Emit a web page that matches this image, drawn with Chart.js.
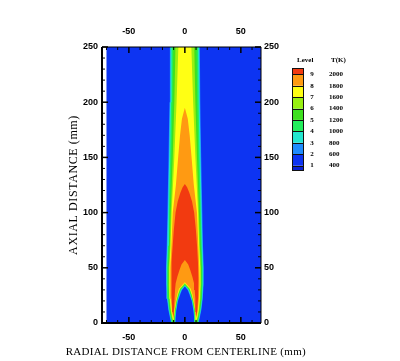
<!DOCTYPE html>
<html><head><meta charset="utf-8">
<script src="https://cdn.jsdelivr.net/npm/chart.js@4.4.0/dist/chart.umd.min.js"></script>
<style>html,body{margin:0;padding:0;background:#fff;}#wrap{width:400px;height:361px;position:relative;}</style>
</head><body><div id="wrap"><canvas id="c"></canvas></div>
<script>
// ---------- data ----------
const xRange = [-74, 68];
const yRange = [0, 250];
const domainX = [-70, 68];          // computed domain (blue field)
const domainY = [0, 250];
const xTickLabels = [-50, 0, 50];
const yTickLabels = [0, 50, 100, 150, 200, 250];
const xMinorTicks = [-70, -60, -40, -30, -20, -10, 10, 20, 30, 40, 60];
const yMinorTicks = [10, 20, 30, 40, 60, 70, 80, 90, 110, 120, 130, 140, 160, 170, 180, 190, 210, 220, 230, 240];
const xTitle = 'RADIAL DISTANCE FROM CENTERLINE (mm)';
const yTitle = 'AXIAL DISTANCE (mm)';
const levelNumbers = [1, 2, 3, 4, 5, 6, 7, 8, 9];
const levelTemps = [400, 600, 800, 1000, 1200, 1400, 1600, 1800, 2000];
// band colours: <400, 400-600, 600-800, ..., 1800-2000, >2000
const bandColors = ['#0a22d2', '#0d34f2', '#1f8cff', '#22e6cf', '#22ee5c', '#3ee020', '#98f012', '#ffff14', '#ff9a12', '#f23a10'];

// isotherm profiles: [axial mm, half-width mm]; outer edge (bottom→top), inner core edge (bottom→apex)
const outer600  = [[0,12.2],[5,13.4],[12,14.8],[22,16.0],[35,16.8],[50,16.9],[70,16.2],[100,15.6],[150,14.6],[200,13.8],[250,13.4]];
const inner600  = [[0,8.4],[5,8.2],[11,7.6],[20,6.1],[26,4.0],[30,2.5],[33,0]];
const outer800  = [[0,11.9],[5,13.0],[12,14.4],[22,15.6],[35,16.4],[50,16.4],[70,15.7],[100,15.0],[150,14.0],[200,13.2],[250,12.8]];
const inner800  = [[0,8.7],[5,8.5],[11,7.9],[20,6.5],[26,4.5],[30,3.1],[33.6,0]];
const outer1000 = [[0,11.5],[5,12.6],[12,14.0],[22,15.1],[35,15.8],[50,15.8],[70,15.0],[100,14.3],[150,13.1],[200,12.3],[250,11.8]];
const inner1000 = [[0,9.0],[5,8.8],[11,8.2],[20,6.8],[26,5.0],[30,3.6],[34.2,0]];
const outer1200 = [[1,11.1],[5,12.1],[12,13.4],[22,14.5],[35,15.1],[50,15.1],[70,14.2],[100,13.4],[150,12.0],[200,11.0],[250,10.4]];
const inner1200 = [[1,9.3],[5,9.1],[11,8.5],[20,7.1],[26,5.4],[31,3.6],[34.8,0]];
const outer1400 = [[2,10.8],[5,11.6],[12,12.9],[22,13.9],[35,14.5],[50,14.4],[70,13.4],[100,12.6],[150,10.8],[200,9.4],[250,8.4]];
const inner1400 = [[2,9.6],[5,9.4],[11,8.8],[20,7.4],[26,5.8],[31,4.0],[35.4,0]];
const outer1600 = [[3,10.5],[6,11.2],[12,12.3],[22,13.3],[35,13.8],[50,13.7],[70,12.7],[100,11.8],[150,9.4],[200,7.4],[250,5.8]];
const inner1600 = [[3,9.9],[6,9.7],[11,9.1],[20,7.7],[26,6.2],[31,4.5],[36.2,0]];
const outer1800 = [[4,10.3],[7,10.8],[12,11.7],[22,12.6],[35,13.1],[50,12.9],[70,12.0],[100,10.8],[125,8.0],[150,6.0],[170,4.3],[185,2.6],[195,0]];
const inner1800 = [[4,10.1],[7,9.9],[11,9.4],[20,8.0],[26,6.7],[31,5.2],[37,0]];
const outer2000 = [[6,10.3],[10,10.9],[16,11.4],[25,11.9],[40,12.1],[55,11.7],[70,10.9],[85,9.8],[100,8.3],[110,6.4],[118,4.0],[123,2.0],[126,0]];
const inner2000 = [[6,10.2],[10,9.9],[16,9.5],[22,9.2],[30,8.8],[36,8.2],[42,6.7],[48,4.8],[53,3.0],[57,0]];

// ---------- build ----------
function flamePolygon(outer, inner) {
  const pts = [];
  outer.forEach(([y, h]) => pts.push({x: -h, y}));
  for (let i = outer.length - 1; i >= 0; i--) { const [y, h] = outer[i]; pts.push({x: h, y}); }
  inner.forEach(([y, h]) => pts.push({x: h, y}));
  for (let i = inner.length - 1; i >= 0; i--) { const [y, h] = inner[i]; pts.push({x: -h, y}); }
  return pts;
}
const regions = [
  {pts: [{x: domainX[0], y: domainY[0]}, {x: domainX[1], y: domainY[0]}, {x: domainX[1], y: domainY[1]}, {x: domainX[0], y: domainY[1]}], color: bandColors[1]},
  {pts: flamePolygon(outer600, inner600), color: bandColors[2]},
  {pts: flamePolygon(outer800, inner800), color: bandColors[3]},
  {pts: flamePolygon(outer1000, inner1000), color: bandColors[4]},
  {pts: flamePolygon(outer1200, inner1200), color: bandColors[5]},
  {pts: flamePolygon(outer1400, inner1400), color: bandColors[6]},
  {pts: flamePolygon(outer1600, inner1600), color: bandColors[7]},
  {pts: flamePolygon(outer1800, inner1800), color: bandColors[8]},
  {pts: flamePolygon(outer2000, inner2000), color: bandColors[9]},
];
const datasets = regions.map((r, i) => ({
  data: r.pts, showLine: true, fill: 'shape', backgroundColor: r.color,
  borderColor: 'rgba(0,0,0,0)', borderWidth: 0.01, pointRadius: 0, tension: 0,
  order: regions.length - i
}));

const tickFont = {family: 'Liberation Sans', size: 9, weight: 'bold'};

const frameTicks = {
  id: 'frameTicks',
  afterDatasetsDraw(chart) {
    const {ctx, chartArea: a, scales} = chart;
    ctx.save();
    ctx.strokeStyle = '#000';
    const seg = (x1, y1, x2, y2, w) => { ctx.lineWidth = w; ctx.beginPath(); ctx.moveTo(x1, y1); ctx.lineTo(x2, y2); ctx.stroke(); };
    xTickLabels.forEach(v => { const p = scales.x.getPixelForValue(v); seg(p, a.bottom, p, a.bottom - 6, 1.5); seg(p, a.top, p, a.top + 6, 1.5); });
    xMinorTicks.forEach(v => { const p = scales.x.getPixelForValue(v); seg(p, a.bottom, p, a.bottom - 3, 1); seg(p, a.top, p, a.top + 3, 1); });
    yTickLabels.forEach(v => { const p = scales.y.getPixelForValue(v); seg(a.left, p, a.left + 6, p, 1.5); seg(a.right, p, a.right - 6, p, 1.5); });
    yMinorTicks.forEach(v => { const p = scales.y.getPixelForValue(v); seg(a.left, p, a.left + 3, p, 1); seg(a.right, p, a.right - 3, p, 1); });
    seg(a.left, a.top, a.right, a.top, 1);
    seg(a.right, a.top, a.right, a.bottom, 1);
    seg(a.left - 1, a.bottom, a.right, a.bottom, 2);
    seg(a.left, a.top, a.left, a.bottom + 1, 2);
    ctx.restore();
  }
};

const axisTitles = {
  id: 'axisTitles',
  afterDraw(chart) {
    const {ctx, chartArea: a, scales} = chart;
    ctx.save();
    ctx.fillStyle = '#000';
    ctx.textAlign = 'center';
    ctx.textBaseline = 'middle';
    ctx.font = '11px "Liberation Serif"';
    ctx.letterSpacing = '0.3px';
    ctx.fillText(xTitle, scales.x.getPixelForValue(0) + 1, 352);
    ctx.font = '12px "Liberation Serif"';
    ctx.letterSpacing = '0.6px';
    ctx.translate(74, (a.top + a.bottom) / 2);
    ctx.rotate(-Math.PI / 2);
    ctx.fillText(yTitle, 0, 0);
    ctx.restore();
  }
};

const colorBar = {
  id: 'colorBar',
  afterDraw(chart) {
    const ctx = chart.ctx;
    const x0 = 292, w = 12, step = 11.4, yTop = 74.3; // position of highest level line
    ctx.save();
    const n = levelTemps.length;
    const yOf = k => yTop + (n - 1 - k) * step;   // y of level k line
    for (let b = 0; b < bandColors.length; b++) {
      const yUpper = b === n ? yOf(n - 1) - step * 0.53 : yOf(b);
      const yLower = b === 0 ? yOf(0) + step * 0.4 : yOf(b - 1);
      ctx.fillStyle = bandColors[b];
      ctx.fillRect(x0, yUpper, w, yLower - yUpper);
    }
    ctx.strokeStyle = '#111';
    ctx.lineWidth = 1;
    for (let k = 0; k < n; k++) { const y = Math.round(yOf(k)) + 0.5; ctx.beginPath(); ctx.moveTo(x0, y); ctx.lineTo(x0 + w, y); ctx.stroke(); }
    ctx.strokeRect(x0 + 0.5, Math.round(yOf(n - 1) - step * 0.53) + 0.5, w - 1, Math.round(yOf(0) + step * 0.4 - (yOf(n - 1) - step * 0.53)));
    ctx.fillStyle = '#000';
    ctx.font = 'bold 7px "Liberation Serif"';
    ctx.textBaseline = 'middle';
    ctx.textAlign = 'left';
    ctx.fillText('Level', 297, 60);
    ctx.fillText('T(K)', 331, 60);
    for (let k = 0; k < n; k++) {
      const y = yOf(k);
      ctx.textAlign = 'center';
      ctx.fillText(String(levelNumbers[k]), 312, y);
      ctx.textAlign = 'left';
      ctx.fillText(String(levelTemps[k]), 329, y);
    }
    ctx.restore();
  }
};

const fixSize = (prop, val) => (s) => { s[prop] = val; };
const setTicks = (arr) => (s) => { s.ticks = arr.map(v => ({value: v})); };

new Chart(document.getElementById('c'), {
  type: 'scatter',
  data: {datasets},
  options: {
    responsive: true, maintainAspectRatio: false, animation: false,
    layout: {padding: 0},
    plugins: {legend: {display: false}, tooltip: {enabled: false}},
    scales: {
      x: {type: 'linear', position: 'bottom', min: xRange[0], max: xRange[1],
          afterBuildTicks: setTicks(xTickLabels), afterFit: fixSize('height', 38),
          grid: {display: false, drawTicks: false}, border: {display: false},
          ticks: {font: tickFont, color: '#000', padding: 9, maxRotation: 0}},
      x2: {type: 'linear', position: 'top', min: xRange[0], max: xRange[1],
          afterBuildTicks: setTicks(xTickLabels), afterFit: fixSize('height', 47),
          grid: {display: false, drawTicks: false}, border: {display: false},
          ticks: {font: tickFont, color: '#000', padding: 10, maxRotation: 0}},
      y: {type: 'linear', position: 'left', min: yRange[0], max: yRange[1],
          afterBuildTicks: setTicks(yTickLabels), afterFit: fixSize('width', 102),
          grid: {display: false, drawTicks: false}, border: {display: false},
          ticks: {font: tickFont, color: '#000', padding: 4}},
      y2: {type: 'linear', position: 'right', min: yRange[0], max: yRange[1],
          afterBuildTicks: setTicks(yTickLabels), afterFit: fixSize('width', 139),
          grid: {display: false, drawTicks: false}, border: {display: false},
          ticks: {font: tickFont, color: '#000', padding: 3}}
    }
  },
  plugins: [frameTicks, axisTitles, colorBar]
});
</script></body></html>
